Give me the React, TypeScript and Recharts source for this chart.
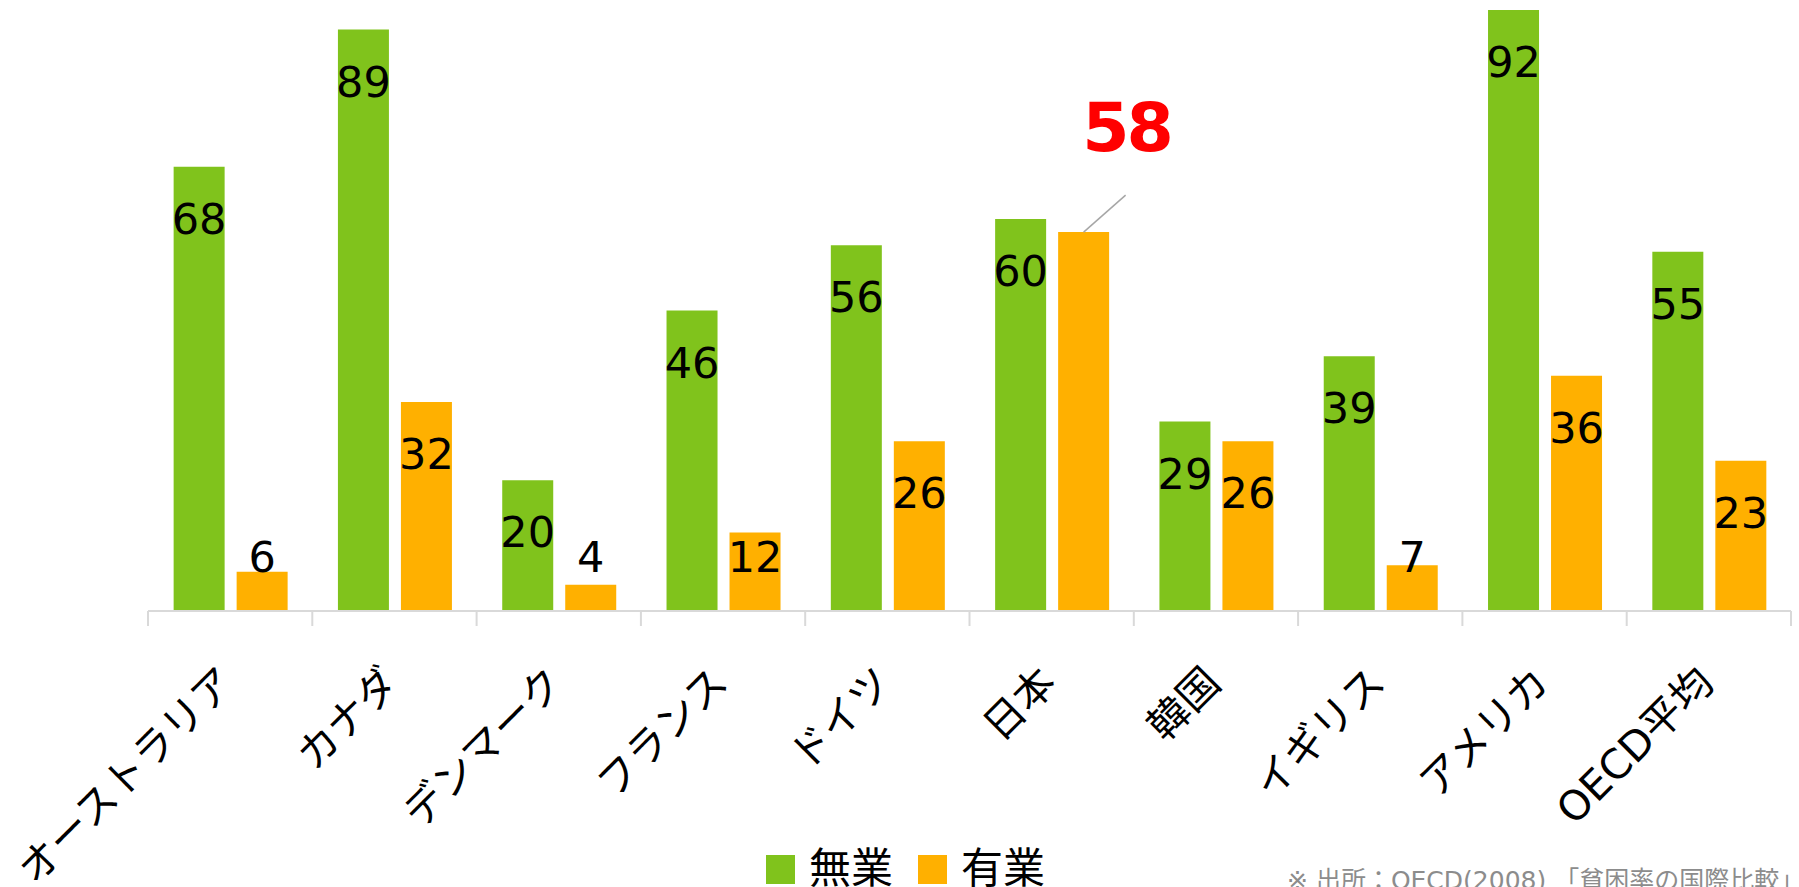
import React from "react";
import { BarChart, Bar, XAxis, YAxis, Legend, LabelList } from "recharts";

// OECD (2008) poverty rate, single-parent households: jobless vs employed
const countries = [
  "オーストラリア",
  "カナダ",
  "デンマーク",
  "フランス",
  "ドイツ",
  "日本",
  "韓国",
  "イギリス",
  "アメリカ",
  "OECD平均",
];
const jobless = [68, 89, 20, 46, 56, 60, 29, 39, 92, 55];
const employed = [6, 32, 4, 12, 26, 58, 26, 7, 36, 23];
const seriesNames = ["無業", "有業"];
const seriesColors = ["#80c31c", "#ffb000"];
const highlightCountry = "日本";
const sourceNote = "※ 出所：OECD(2008) 「貧困率の国際比較」";

const data = countries.map((name, i) => ({
  name,
  jobless: jobless[i],
  employed: employed[i],
}));

const W = 1799;
const H = 887;
const margin = { top: 10, right: 8, bottom: 0, left: 148 };
const FONT = "'DejaVu Sans', 'Noto Sans CJK JP', sans-serif";

function CountryTick(props: any) {
  const { x, y, payload, index } = props;
  const fallback = (W - margin.left - margin.right) / countries.length / 2;
  const half = payload?.offset || fallback;
  const tx = x - 3;
  const ty = y + 64;
  return (
    <g>
      <line x1={x - half} x2={x - half} y1={y} y2={y + 15} stroke="#d9d9d9" strokeWidth={2} />
      {index === countries.length - 1 && (
        <line x1={x + half} x2={x + half} y1={y} y2={y + 15} stroke="#d9d9d9" strokeWidth={2} />
      )}
      <text
        x={tx}
        y={ty}
        transform={`rotate(-45, ${tx}, ${ty})`}
        textAnchor="end"
        dominantBaseline="central"
        fontSize={41}
        fill="#000"
        fontFamily={FONT}
      >
        {payload.value}
      </text>
    </g>
  );
}

const valueLabel = (withCallout: boolean) => (props: any) => {
  const { x, y, width, height, value, index } = props;
  const cx = x + width / 2;
  if (withCallout && countries[index] === highlightCountry) {
    return (
      <g>
        <line x1={cx} y1={y} x2={cx + 42} y2={y - 37} stroke="#a6a6a6" strokeWidth={1.5} />
        <text
          x={cx + 43}
          y={y - 81}
          textAnchor="middle"
          fontSize={68}
          fontWeight="bold"
          letterSpacing={-3}
          fill="#ff0000"
          fontFamily={FONT}
        >
          {value}
        </text>
      </g>
    );
  }
  // inside the bar top, but kept clear of the axis for short bars
  const cy = Math.min(y + 51, y + height - 55);
  return (
    <text x={cx} y={cy + 16} textAnchor="middle" fontSize={43} fill="#000" fontFamily={FONT}>
      {value}
    </text>
  );
};

function LegendBox() {
  return (
    <div style={{ display: "flex", alignItems: "center", height: 42, fontFamily: FONT }}>
      {seriesNames.map((name, i) => (
        <div key={name} style={{ display: "flex", alignItems: "center", marginRight: 25 }}>
          <span style={{ width: 29, height: 29, background: seriesColors[i], display: "inline-block" }} />
          <span style={{ fontSize: 42, lineHeight: "42px", marginLeft: 14, color: "#000" }}>{name}</span>
        </div>
      ))}
    </div>
  );
}

export default function App() {
  return (
    <div style={{ position: "relative", width: W, height: H, overflow: "hidden", background: "#fff" }}>
      <style>{"body{margin:0}"}</style>
      <BarChart width={W} height={H} data={data} margin={margin} barCategoryGap="15.6%" barGap={12}>
        <XAxis
          dataKey="name"
          height={276}
          interval={0}
          tickLine={false}
          tickSize={0}
          tickMargin={0}
          axisLine={{ stroke: "#d9d9d9", strokeWidth: 2 }}
          tick={<CountryTick />}
        />
        <YAxis hide domain={[0, 92]} />
        <Legend
          verticalAlign="middle"
          align="center"
          layout="horizontal"
          wrapperStyle={{ top: 848, left: 766, width: 320 }}
          content={() => <LegendBox />}
        />
        <Bar dataKey="jobless" name={seriesNames[0]} fill={seriesColors[0]} isAnimationActive={false}>
          <LabelList dataKey="jobless" content={valueLabel(false)} />
        </Bar>
        <Bar dataKey="employed" name={seriesNames[1]} fill={seriesColors[1]} isAnimationActive={false}>
          <LabelList dataKey="employed" content={valueLabel(true)} />
        </Bar>
      </BarChart>
      <div
        style={{
          position: "absolute",
          left: 1287,
          top: 868,
          fontSize: 25,
          lineHeight: "25px",
          color: "#8c8c8c",
          whiteSpace: "nowrap",
          fontFamily: FONT,
        }}
      >
        {sourceNote}
      </div>
    </div>
  );
}
